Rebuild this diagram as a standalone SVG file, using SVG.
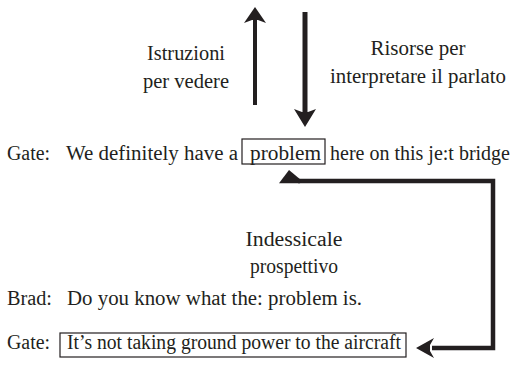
<svg xmlns="http://www.w3.org/2000/svg" width="521" height="366" viewBox="0 0 521 366">
  <style>
    text { font-family: "Liberation Serif", "DejaVu Serif", serif; font-size: 20px; fill: #231f20; }
    .mid { text-anchor: middle; }
    .box { fill: none; stroke: #231f20; stroke-width: 1.2; }
    .shaft { fill: none; stroke: #231f20; stroke-linejoin: miter; }
    .head { fill: #231f20; }
  </style>
  <rect width="521" height="366" fill="#ffffff"/>

  <g id="connectors">
    <!-- upward arrow: instructions for seeing -->
    <g id="arrow-up">
      <line class="shaft" x1="255" y1="105" x2="255" y2="20" stroke-width="4"/>
      <path class="head" d="M255,7 L266,23 L258,20 L252,20 L244,23 Z"/>
    </g>
    <!-- downward arrow: resources for interpreting speech -->
    <g id="arrow-down">
      <line class="shaft" x1="305" y1="12" x2="305" y2="112" stroke-width="5"/>
      <path class="head" d="M305,127 L294,109 L302,112 L308,112 L316,109 Z"/>
    </g>
    <!-- hook from the last line back to "problem" -->
    <g id="arrow-hook">
      <path class="shaft" d="M298,181 H493 V348 H432" stroke-width="4.5"/>
      <path class="head" d="M289,170 L301,180 L300,183.2 L279,183.2 Z"/>
      <path class="head" d="M416,348 L434,338 L430,345 L430,351 L434,358 Z"/>
    </g>
  </g>

  <g id="labels">
    <g id="label-istruzioni">
      <text class="mid" x="186" y="60" textLength="78" lengthAdjust="spacingAndGlyphs">Istruzioni</text>
      <text class="mid" x="186" y="88" textLength="86" lengthAdjust="spacingAndGlyphs">per vedere</text>
    </g>
    <g id="label-risorse">
      <text class="mid" x="418" y="55" textLength="95" lengthAdjust="spacingAndGlyphs">Risorse per</text>
      <text class="mid" x="418" y="83" textLength="176" lengthAdjust="spacingAndGlyphs">interpretare il parlato</text>
    </g>
    <g id="label-indessicale">
      <text class="mid" x="294" y="246" textLength="97" lengthAdjust="spacingAndGlyphs">Indessicale</text>
      <text class="mid" x="294" y="273" textLength="88" lengthAdjust="spacingAndGlyphs">prospettivo</text>
    </g>
  </g>

  <g id="line-gate-1">
    <text x="7" y="160" textLength="43" lengthAdjust="spacingAndGlyphs">Gate:</text>
    <text x="66" y="160" textLength="172" lengthAdjust="spacingAndGlyphs">We definitely have a</text>
    <rect class="box" x="242" y="139" width="83" height="25"/>
    <text x="250" y="160" textLength="71" lengthAdjust="spacingAndGlyphs">problem</text>
    <text x="330" y="160" textLength="180" lengthAdjust="spacingAndGlyphs">here on this je:t bridge</text>
  </g>

  <g id="line-brad">
    <text x="7" y="305" textLength="45" lengthAdjust="spacingAndGlyphs">Brad:</text>
    <text x="67" y="305" textLength="295" lengthAdjust="spacingAndGlyphs">Do you know what the: problem is.</text>
  </g>

  <g id="line-gate-2">
    <text x="7" y="349" textLength="43" lengthAdjust="spacingAndGlyphs">Gate:</text>
    <rect class="box" x="60" y="333" width="346" height="24"/>
    <text x="67" y="349" textLength="334" lengthAdjust="spacingAndGlyphs">It’s not taking ground power to the aircraft</text>
  </g>
</svg>
